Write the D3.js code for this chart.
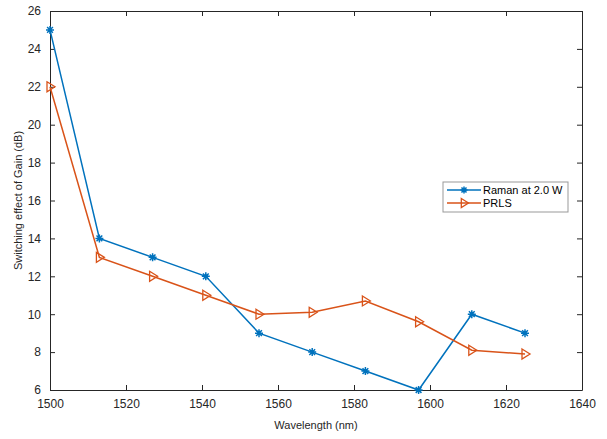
<!DOCTYPE html>
<html>
<head>
<meta charset="utf-8">
<script src="https://cdn.jsdelivr.net/npm/d3@7"></script>
<style>
  body { margin: 0; background: #fff; }
  svg { display: block; font-family: "Liberation Sans", Arial, sans-serif; }
</style>
</head>
<body>
<svg id="chart"></svg>
<script>
// Chart data
const wavelengths = [1500, 1513, 1527, 1541, 1555, 1569, 1583, 1597, 1611, 1625];
const ramanGain = [25, 14, 13, 12, 9, 8, 7, 6, 10, 9];
const prlsGain = [22, 13, 12, 11, 10, 10.1, 10.7, 9.6, 8.1, 7.9];
const xTicks = [1500, 1520, 1540, 1560, 1580, 1600, 1620, 1640];
const yTicks = [6, 8, 10, 12, 14, 16, 18, 20, 22, 24, 26];
const seriesNames = ["Raman at 2.0 W", "PRLS"];

const width = 607;
const height = 439;
const margin = {top: 11, right: 25, bottom: 49, left: 50};

const blue = "#0072BD";
const orange = "#D95319";
const axisColor = "#262626";

const svg = d3.select("#chart")
    .attr("width", width)
    .attr("height", height);

const x = d3.scaleLinear()
    .domain([1500, 1640])
    .range([margin.left, width - margin.right]);

const y = d3.scaleLinear()
    .domain([6, 26])
    .range([height - margin.bottom, margin.top]);

// Axes (ticks inside, box on)
const tickLen = 5;
svg.append("g")
    .attr("transform", `translate(0,${y(6)})`)
    .call(d3.axisBottom(x).tickValues(xTicks).tickFormat(d3.format("d")).tickSizeInner(-tickLen).tickSizeOuter(0).tickPadding(9))
    .call(g => g.select(".domain").attr("stroke", axisColor))
    .call(g => g.selectAll("line").attr("stroke", axisColor))
    .call(g => g.selectAll("text").attr("fill", axisColor).attr("font-size", 12));

svg.append("g")
    .attr("transform", `translate(${x(1500)},0)`)
    .call(d3.axisLeft(y).tickValues(yTicks).tickSizeInner(-tickLen).tickSizeOuter(0).tickPadding(9))
    .call(g => g.select(".domain").attr("stroke", axisColor))
    .call(g => g.selectAll("line").attr("stroke", axisColor))
    .call(g => g.selectAll("text").attr("fill", axisColor).attr("font-size", 12));

svg.append("g")
    .attr("transform", `translate(0,${y(26)})`)
    .call(d3.axisTop(x).tickValues(xTicks).tickSizeInner(-tickLen).tickSizeOuter(0).tickFormat(""))
    .call(g => g.select(".domain").attr("stroke", axisColor))
    .call(g => g.selectAll("line").attr("stroke", axisColor));

svg.append("g")
    .attr("transform", `translate(${x(1640)},0)`)
    .call(d3.axisRight(y).tickValues(yTicks).tickSizeInner(-tickLen).tickSizeOuter(0).tickFormat(""))
    .call(g => g.select(".domain").attr("stroke", axisColor))
    .call(g => g.selectAll("line").attr("stroke", axisColor));

// Axis labels
svg.append("text")
    .attr("x", (x(1500) + x(1640)) / 2)
    .attr("y", 429)
    .attr("text-anchor", "middle")
    .attr("font-size", 11)
    .attr("fill", axisColor)
    .text("Wavelength (nm)");

svg.append("text")
    .attr("transform", `translate(22,${(y(6) + y(26)) / 2}) rotate(-90)`)
    .attr("text-anchor", "middle")
    .attr("font-size", 11)
    .attr("fill", axisColor)
    .text("Switching effect of Gain (dB)");

// Lines
const line = d3.line()
    .x(d => x(d[0]))
    .y(d => y(d[1]));

const ramanData = wavelengths.map((w, i) => [w, ramanGain[i]]);
const prlsData = wavelengths.map((w, i) => [w, prlsGain[i]]);

svg.append("path")
    .datum(ramanData)
    .attr("fill", "none")
    .attr("stroke", blue)
    .attr("stroke-width", 1.5)
    .attr("d", line);

svg.append("path")
    .datum(prlsData)
    .attr("fill", "none")
    .attr("stroke", orange)
    .attr("stroke-width", 1.5)
    .attr("d", line);

// Markers
function drawStar(g, cx, cy, r) {
    const path = d3.path();
    path.moveTo(cx - r, cy); path.lineTo(cx + r, cy);
    path.moveTo(cx, cy - r); path.lineTo(cx, cy + r);
    const d = r * 0.72;
    path.moveTo(cx - d, cy - d); path.lineTo(cx + d, cy + d);
    path.moveTo(cx - d, cy + d); path.lineTo(cx + d, cy - d);
    g.append("path").attr("d", path.toString())
        .attr("stroke", blue).attr("stroke-width", 1.5).attr("fill", "none");
}

function drawTriangle(g, cx, cy, r) {
    g.append("path")
        .attr("d", `M${cx - r * 0.6},${cy - r}L${cx + r},${cy}L${cx - r * 0.6},${cy + r}Z`)
        .attr("stroke", orange).attr("stroke-width", 1.3).attr("fill", "none");
}

const markers = svg.append("g");
ramanData.forEach(d => drawStar(markers, x(d[0]), y(d[1]), 4));
prlsData.forEach(d => drawTriangle(markers, x(d[0]), y(d[1]), 5));

// Legend
const legend = svg.append("g").attr("transform", "translate(443,182)");
legend.append("rect")
    .attr("width", 125)
    .attr("height", 30)
    .attr("fill", "#fff")
    .attr("stroke", "#999")
    .attr("stroke-width", 1);

const legendColors = [blue, orange];
seriesNames.forEach((name, i) => {
    const ly = 8 + i * 13;
    legend.append("line")
        .attr("x1", 4).attr("x2", 38)
        .attr("y1", ly).attr("y2", ly)
        .attr("stroke", legendColors[i])
        .attr("stroke-width", 1.5);
    if (i === 0) drawStar(legend, 21, ly, 3.5);
    else drawTriangle(legend, 21, ly, 4.5);
    legend.append("text")
        .attr("x", 40)
        .attr("y", ly + 4)
        .attr("font-size", 11)
        .attr("fill", "#000")
        .text(name);
});
</script>
</body>
</html>
